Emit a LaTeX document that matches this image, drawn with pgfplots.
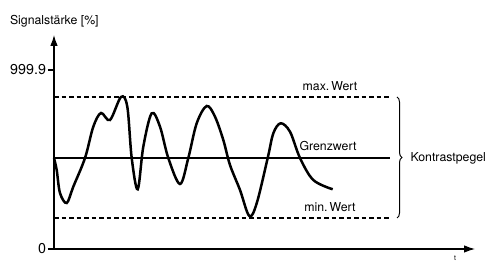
\documentclass[border=0pt]{standalone}
\usepackage{fontspec}
\setmainfont{TeX Gyre Heros}
\usepackage{pgfplots}
\pgfplotsset{compat=1.18}
\usetikzlibrary{arrows.meta,decorations.pathreplacing}
\begin{document}
\begin{tikzpicture}[x=1pt,y=1pt,font=\fontsize{12.3}{14}\selectfont]
\useasboundingbox (0,0) rectangle (492,264);
\begin{axis}[
  at={(54pt,15pt)}, anchor=south west,
  scale only axis, width=421pt, height=214pt,
  xmin=0, xmax=421, ymin=0, ymax=1195.4,
  axis lines=left,
  axis line style={line width=1.1pt,-{Latex[length=11pt,width=7.5pt]}},
  xtick=\empty,
  ytick={0,999.9},
  yticklabels={0,999.9},
  tick align=outside, major tick length=6pt,
  tick style={line width=1.1pt,black},
  tick label style={font=\fontsize{14.3}{16}\selectfont},
  yticklabel style={xshift=1.5pt},
  clip=false,
]
% limit lines
\addplot[black, line width=1.8pt, dash pattern=on 4.5pt off 3pt] coordinates {(0,849.1) (336,849.1)};
\addplot[black, line width=1.8pt, dash pattern=on 4.5pt off 3pt] coordinates {(0,173.2) (336,173.2)};
\addplot[black, line width=1.8pt] coordinates {(0,508.3) (336,508.3)};
% signal
\addplot[black, line width=2.5pt, smooth, tension=0.55] coordinates {
(0,508.3) (2.7,441.3) (6,312.8) (12.7,257.0) (19.3,348.0) (31,508.3)
(39.3,683.2) (47,759.7) (56,720.6) (67,849.1) (73.3,794.9) (77.7,508.3)
(83.7,333.5) (89.3,571.5) (97.7,758.0) (106,683.2) (114.3,508.3)
(126,363.1) (134.3,508.3) (142.7,702.2) (152.7,798.8) (161,739.0)
(169.3,608.9) (176,469.2) (186,329.6) (195.3,184.3) (202.7,255.3)
(213.7,508.3) (219.3,646.3) (226.7,702.2) (236,655.2) (246,508.3)
(259.3,385.4) (278.7,333.5)};
% labels
\node at (axis cs:276,910.5) {max.\,Wert};
\node at (axis cs:274,575) {Grenzwert};
\node at (axis cs:276,234.6) {min.\,Wert};
\draw[line width=1pt, decorate, decoration={brace, amplitude=5pt}] (axis cs:343,849.1) -- (axis cs:343,173.2);
\node[anchor=west] at (axis cs:353,508.3) {Kontrastpegel};
\end{axis}
\node[anchor=base west] at (6.5,239) {Signalstärke [\%]};
\node[anchor=south, font=\fontsize{7}{8}\selectfont] at (455,0.3) {t};
\end{tikzpicture}
\end{document}
